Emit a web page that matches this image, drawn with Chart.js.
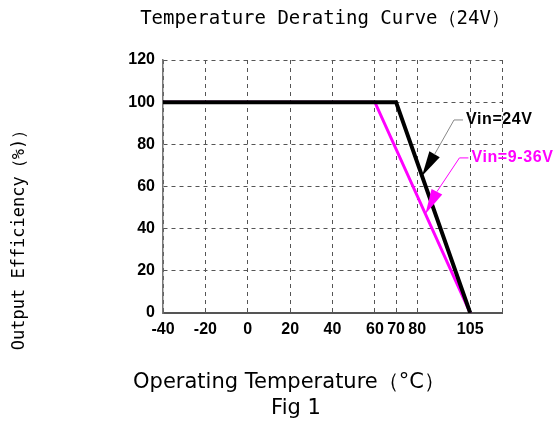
<!DOCTYPE html>
<html>
<head>
<meta charset="utf-8">
<script src="https://cdn.jsdelivr.net/npm/chart.js@4"></script>
<style>
  body { margin: 0; background: #fff; }
</style>
</head>
<body>
<canvas id="deratingChart" width="553" height="428"></canvas>
<script>
// Curve data (temperature in °C, output in %)
const vin24Temp = [-40, 70, 105];
const vin24Load = [100, 100, 0];
const vinWideTemp = [-40, 60, 105];
const vinWideLoad = [100, 100, 0];

// Axis ticks
const xTicks = [-40, -20, 0, 20, 40, 60, 70, 80, 105, 120];
const xTickLabels = ['-40', '-20', '0', '20', '40', '60', '70', '80', '105', ''];
const yTicks = [0, 20, 40, 60, 80, 100, 120];

const chartTitle = 'Temperature Derating Curve（24V）';
const yTitle = 'Output Efficiency（%)）';
const xTitle = 'Operating Temperature（°C）';
const figLabel = 'Fig 1';
const vin24Label = 'Vin=24V';
const vinWideLabel = 'Vin=9-36V';

function toPoints(xs, ys) {
    return xs.map((x, i) => ({ x: x, y: ys[i] }));
}

// x value on the sloped segment for a given y
function xOnSegment(xs, ys, y) {
    const n = xs.length;
    const x0 = xs[n - 2], y0 = ys[n - 2], x1 = xs[n - 1], y1 = ys[n - 1];
    return x0 + (y - y0) * (x1 - x0) / (y1 - y0);
}

function drawCallout(ctx, tip, dir, text, color, leadColor, tx, ty) {
    // arrow head
    const len = 25, half = 6;
    const d = Math.hypot(dir.x, dir.y);
    const ux = dir.x / d, uy = dir.y / d;
    const bx = tip.x - ux * len, by = tip.y - uy * len;
    ctx.fillStyle = color;
    ctx.beginPath();
    ctx.moveTo(tip.x, tip.y);
    ctx.lineTo(bx - uy * half, by + ux * half);
    ctx.lineTo(bx + uy * half, by - ux * half);
    ctx.closePath();
    ctx.fill();
    // leader
    ctx.strokeStyle = leadColor;
    ctx.lineWidth = 1;
    ctx.beginPath();
    ctx.moveTo(bx, by);
    ctx.lineTo(tx - 12, ty);
    ctx.lineTo(tx - 3, ty);
    ctx.stroke();
    // label
    ctx.fillStyle = color;
    ctx.font = 'bold 16px "Liberation Sans", Arial, sans-serif';
    ctx.letterSpacing = '0.6px';
    ctx.textAlign = 'left';
    ctx.textBaseline = 'middle';
    ctx.fillText(text, tx, ty);
    ctx.letterSpacing = '0px';
}

const textPlugin = {
    id: 'textPlugin',
    afterDatasetsDraw(chart) {
        const ctx = chart.ctx;
        const xs = chart.scales.x, ys = chart.scales.y;
        ctx.save();

        // callouts
        const t1 = { x: xs.getPixelForValue(xOnSegment(vin24Temp, vin24Load, 65)), y: ys.getPixelForValue(65) };
        drawCallout(ctx, t1, { x: -18, y: 31 }, vin24Label, '#000', '#888', t1.x + 44, t1.y - 56);
        const t2 = { x: xs.getPixelForValue(xOnSegment(vinWideTemp, vinWideLoad, 47)), y: ys.getPixelForValue(47) };
        drawCallout(ctx, t2, { x: -30, y: 58 }, vinWideLabel, '#ff00ff', '#ff00ff', t2.x + 46, t2.y - 56);

        // titles
        ctx.fillStyle = '#000';
        ctx.textAlign = 'center';
        ctx.textBaseline = 'middle';
        ctx.font = '19px "DejaVu Sans Mono", monospace';
        ctx.fillText(chartTitle, 325, 19);

        ctx.font = '21px "DejaVu Sans", sans-serif';
        ctx.fillText(xTitle, 289, 383);
        ctx.fillText(figLabel, 296, 409);

        ctx.save();
        ctx.translate(20, 236);
        ctx.rotate(-Math.PI / 2);
        ctx.font = '17px "DejaVu Sans Mono", monospace';
        ctx.fillText(yTitle, 0, 0);
        ctx.restore();

        ctx.restore();
    }
};

const ctx = document.getElementById('deratingChart').getContext('2d');
const deratingChart = new Chart(ctx, {
    type: 'line',
    data: {
        datasets: [{
            label: vin24Label,
            data: toPoints(vin24Temp, vin24Load),
            borderColor: '#000000',
            borderWidth: 4,
            pointRadius: 0,
            tension: 0,
            order: 0
        }, {
            label: vinWideLabel,
            data: toPoints(vinWideTemp, vinWideLoad),
            borderColor: '#ff00ff',
            borderWidth: 3,
            pointRadius: 0,
            tension: 0,
            order: 1
        }]
    },
    options: {
        responsive: false,
        animation: false,
        layout: {
            padding: { top: 60, right: 51, left: 0, bottom: 0 }
        },
        plugins: {
            legend: { display: false },
            tooltip: { enabled: false }
        },
        scales: {
            x: {
                type: 'linear',
                min: -40,
                max: 120,
                afterBuildTicks: s => { s.ticks = xTicks.map(v => ({ value: v })); },
                afterFit: s => { s.height = 115; },
                ticks: {
                    autoSkip: false,
                    maxRotation: 0,
                    padding: 7,
                    color: '#000',
                    font: { family: '"Liberation Sans", Arial, sans-serif', size: 16, weight: 'bold' },
                    callback: (value, index) => xTickLabels[index]
                },
                grid: { color: '#555', lineWidth: 1, drawTicks: false },
                border: { color: '#555', width: 2, dash: [4, 4] }
            },
            y: {
                min: 0,
                max: 120,
                afterBuildTicks: s => { s.ticks = yTicks.map(v => ({ value: v })); },
                afterFit: s => { s.width = 163; },
                ticks: {
                    padding: 8,
                    color: '#000',
                    font: { family: '"Liberation Sans", Arial, sans-serif', size: 16, weight: 'bold' }
                },
                grid: { color: '#555', lineWidth: 1, drawTicks: false },
                border: { color: '#777', width: 1.5, dash: [4, 4] }
            }
        }
    },
    plugins: [textPlugin]
});
</script>
</body>
</html>
